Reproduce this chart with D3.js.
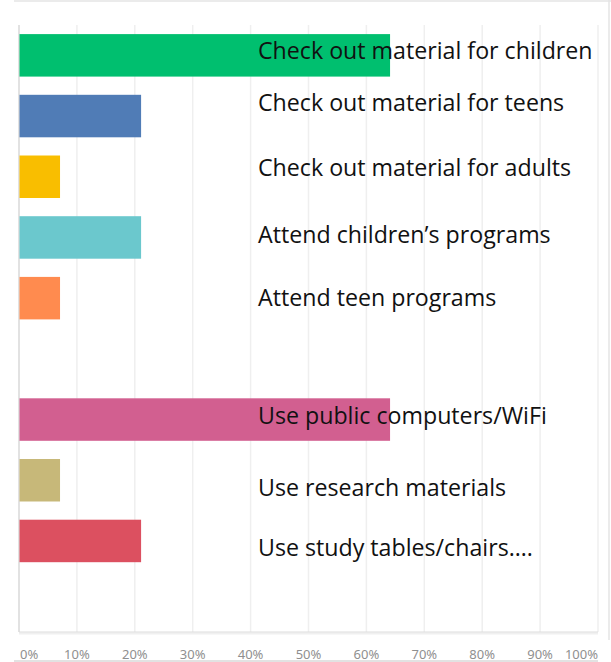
<!DOCTYPE html>
<html>
<head>
<meta charset="utf-8">
<script src="https://cdn.jsdelivr.net/npm/d3@7"></script>
<style>
  body { margin: 0; background: #fff; }
  svg { display: block; }
</style>
</head>
<body>
<div id="container"></div>
<script>
// survey answers, top to bottom (blank rows are empty answer slots)
const categories = [
  'Check out material for children',
  'Check out material for teens',
  'Check out material for adults',
  'Attend children\u2019s programs',
  'Attend teen programs',
  '',
  'Use public computers/WiFi',
  'Use research materials',
  'Use study tables/chairs\u2026.',
  ''
];
const values = [64, 21, 7, 21, 7, 0, 64, 7, 21, 0];
const barColors = ['#00bf6f', '#507cb6', '#f9be00', '#6bc8cd', '#ff8b4f', '#fff', '#d25f90', '#c7b879', '#dc5060', '#fff'];
const tickValues = [0, 10, 20, 30, 40, 50, 60, 70, 80, 90, 100];
// small vertical nudges of the overlaid text boxes
const labelShift = [-4, -13, -9, -3, 0, 0, -4, 8, 7, 0];

const width = 611, height = 662;
const margin = { top: 25, right: 13, bottom: 30, left: 19 };

const svg = d3.select('#container').append('svg')
  .attr('width', width)
  .attr('height', height);

const x = d3.scaleLinear()
  .domain([0, 100])
  .range([margin.left, width - margin.right]);

const y = d3.scaleBand()
  .domain(d3.range(categories.length))
  .range([margin.top, height - margin.bottom])
  .paddingInner(0.3)
  .paddingOuter(0.15);

// frame lines of the screenshot
svg.append('line')
  .attr('x1', 14).attr('x2', width).attr('y1', 1).attr('y2', 1)
  .attr('stroke', '#e4e4e4').attr('stroke-width', 1.5);
svg.append('line')
  .attr('x1', 609).attr('x2', 609).attr('y1', 0).attr('y2', height - 22)
  .attr('stroke', '#e4e4e4').attr('stroke-width', 1.5);
svg.append('line')
  .attr('x1', 14).attr('x2', 598).attr('y1', height - 1).attr('y2', height - 1)
  .attr('stroke', '#d8d8d8').attr('stroke-width', 1.5);

// gridlines
svg.append('g')
  .selectAll('line')
  .data(tickValues)
  .enter()
  .append('line')
  .attr('x1', (d) => x(d))
  .attr('x2', (d) => x(d))
  .attr('y1', margin.top)
  .attr('y2', height - margin.bottom)
  .attr('stroke', (d) => d === 0 ? '#d9d9d9' : '#efefef')
  .attr('stroke-width', 1.5);

// bottom edge with a faint shadow
svg.append('line')
  .attr('x1', x(0)).attr('x2', x(100))
  .attr('y1', height - margin.bottom + 1.5).attr('y2', height - margin.bottom + 1.5)
  .attr('stroke', '#f0f0f0').attr('stroke-width', 2);
svg.append('line')
  .attr('x1', x(0)).attr('x2', x(100))
  .attr('y1', height - margin.bottom).attr('y2', height - margin.bottom)
  .attr('stroke', '#dcdcdc').attr('stroke-width', 1);

// bars
svg.append('g')
  .selectAll('rect')
  .data(values)
  .enter()
  .append('rect')
  .attr('x', x(0) + 0.5)
  .attr('y', (d, i) => y(i))
  .attr('width', (d) => Math.max(0, x(d) - x(0)))
  .attr('height', y.bandwidth())
  .attr('fill', (d, i) => barColors[i]);

// overlaid answer text
svg.append('g')
  .selectAll('text')
  .data(categories)
  .enter()
  .append('text')
  .attr('x', 258)
  .attr('y', (d, i) => y(i) + y.bandwidth() / 2 + labelShift[i])
  .attr('dy', '0.35em')
  .style('font-family', '"Open Sans", sans-serif')
  .style('font-size', '23.2px')
  .style('fill', '#111')
  .text((d) => d);

// x axis tick labels
svg.append('g')
  .selectAll('text')
  .data(tickValues)
  .enter()
  .append('text')
  .attr('x', (d) => d === 0 ? x(d) + 1 : x(d))
  .attr('y', 654)
  .attr('dy', '0.35em')
  .style('text-anchor', (d) => d === 0 ? 'start' : (d === 100 ? 'end' : 'middle'))
  .style('font-family', '"Noto Sans", sans-serif')
  .style('font-size', '13px')
  .style('fill', '#8f8f8f')
  .text((d) => d + '%');
</script>
</body>
</html>
